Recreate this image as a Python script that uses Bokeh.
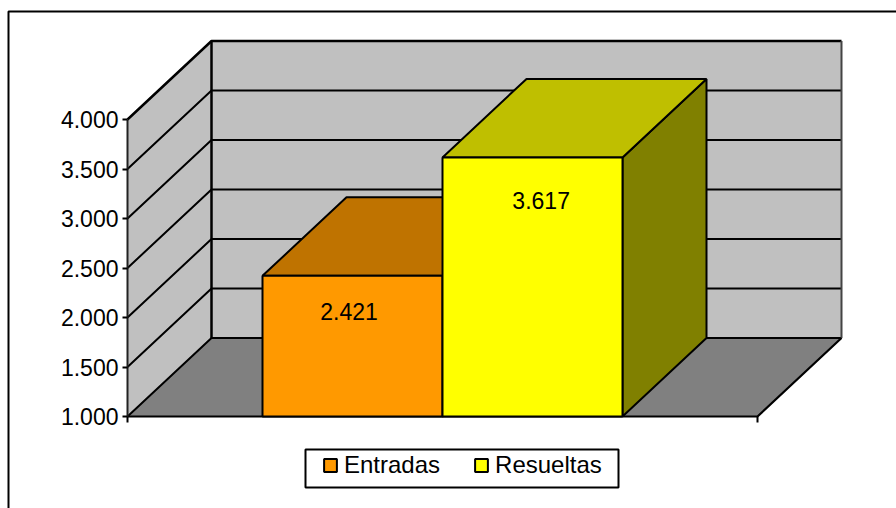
from bokeh.plotting import figure
from bokeh.models import LinearAxis, FixedTicker, Legend, LegendItem, Range1d, ColumnDataSource
from bokeh.embed import file_html
from bokeh.resources import INLINE
from bokeh.core.properties import value as V

categories = ["Entradas", "Resueltas"]
values = [2421, 3617]
value_labels = ["2.421", "3.617"]
front_colors = ["#FF9900", "#FFFF00"]
top_colors = ["#BF7300", "#BFBF00"]
side_colors = ["#804D00", "#808000"]
ticks = [1000, 1500, 2000, 2500, 3000, 3500, 4000]
tick_labels = ["1.000", "1.500", "2.000", "2.500", "3.000", "3.500", "4.000"]

FONT = "Liberation Sans"
FS = "23px"
INK = "#000000"

BAR_W_PX = 180.0
PX_PER_VAL = 297.0 / 3000.0
X0_PX = 262.0
def X(px): return (px - X0_PX) / BAR_W_PX
def Y(py): return 1000 + (416.0 - py) / PX_PER_VAL

GAP = 0.75
DX = 84.0 / BAR_W_PX
DY = 78.5 / PX_PER_VAL
y_min, y_max = ticks[0], ticks[-1]
x_l, x_r = -GAP, len(values) + GAP

p = figure(width=896, height=508, output_backend="svg", toolbar_location=None,
           x_range=Range1d(X(0), X(896)), y_range=Range1d(Y(508), Y(0)),
           min_border=0, outline_line_color=None, background_fill_color="white",
           x_axis_type=None, y_axis_type=None)
p.grid.visible = False

# outer chart frame (runs off the window on the right and bottom)
p.line([X(8), X(8), X(896)], [Y(508), Y(11), Y(11)], line_color=INK, line_width=2)

# walls and floor
p.patch([x_l, x_l + DX, x_l + DX, x_l], [y_min, y_min + DY, y_max + DY, y_max],
        fill_color="#C0C0C0", line_color=None)
p.patch([x_l + DX, x_r + DX, x_r + DX, x_l + DX], [y_min + DY, y_min + DY, y_max + DY, y_max + DY],
        fill_color="#C0C0C0", line_color=None)
p.patch([x_l, x_r, x_r + DX, x_l + DX], [y_min, y_min, y_min + DY, y_min + DY],
        fill_color="#808080", line_color=None)

# gridlines across both walls
for t in ticks:
    wd = 2.5 if t == y_max else 2
    p.line([x_l, x_l + DX, x_r + DX], [t, t + DY, t + DY], line_color=INK, line_width=wd)
p.line([x_l + DX, x_l + DX], [y_min + DY, y_max + DY], line_color=INK, line_width=2.5)
p.line([x_r + DX, x_r + DX], [y_min + DY, y_max + DY], line_color="#444444", line_width=2)
p.line([x_l, x_r, x_r + DX], [y_min, y_min, y_min + DY], line_color=INK, line_width=2.2)

# bars in 3-D
fronts = []
for i, v in enumerate(values):
    l, r = i, i + 1
    p.patch([r, r + DX, r + DX, r], [y_min, y_min + DY, v + DY, v],
            fill_color=side_colors[i], line_color=INK, line_width=2)
    p.patch([l, l + DX, r + DX, r], [v, v + DY, v + DY, v],
            fill_color=top_colors[i], line_color=INK, line_width=2)
    fronts.append(p.quad(left=[l], right=[r], bottom=[y_min], top=[v],
                         fill_color=front_colors[i], line_color=INK, line_width=2))

# value labels
src = ColumnDataSource(dict(x=[0.481, 1.548],
                            y=[values[0] - 36 / PX_PER_VAL, values[1] - 43 / PX_PER_VAL],
                            t=value_labels))
p.text("x", "y", text="t", source=src, text_font=V(FONT), text_font_size=FS,
       text_color=INK, text_align="center", text_baseline="middle")

# axes
ya = LinearAxis(ticker=FixedTicker(ticks=ticks), fixed_location=x_l, bounds=(y_min, y_max))
ya.major_label_overrides = {t: s for t, s in zip(ticks, tick_labels)}
ya.major_label_text_font = FONT
ya.major_label_text_font_size = FS
ya.major_label_text_color = INK
ya.major_label_standoff = 4
ya.major_tick_out = 5
ya.major_tick_in = 0
ya.major_tick_line_width = 2
ya.minor_tick_line_color = None
ya.axis_line_color = "#222222"
ya.axis_line_width = 2
p.add_layout(ya, "left")

xa = LinearAxis(ticker=FixedTicker(ticks=[x_l, x_r]), fixed_location=y_min, bounds=(x_l, x_r))
xa.major_label_text_font_size = "0px"
xa.major_label_text_color = None
xa.major_tick_out = 6
xa.major_tick_in = 0
xa.major_tick_line_width = 2
xa.minor_tick_line_color = None
xa.axis_line_color = None
p.add_layout(xa, "below")

# legend box + legend
p.quad(left=[X(305)], right=[X(618)], bottom=[Y(487)], top=[Y(449)],
       fill_color="white", line_color=INK, line_width=2)
legend = Legend(items=[LegendItem(label=c, renderers=[r]) for c, r in zip(categories, fronts)],
                orientation="horizontal", location=(322, 29), margin=0, padding=6,
                spacing=33, glyph_width=16, glyph_height=16, label_standoff=6,
                label_text_font=FONT, label_text_font_size="24px", label_text_color=INK,
                background_fill_alpha=0, border_line_color=None)
p.add_layout(legend, "center")

open("out.html", "w").write(file_html(p, INLINE))
